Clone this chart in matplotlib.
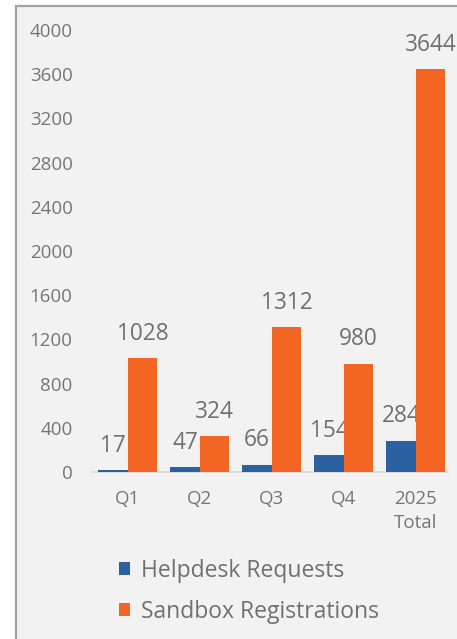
import numpy as np
import matplotlib.pyplot as plt
from matplotlib.patches import Rectangle

plt.rcParams['font.family'] = ['Open Sans', 'DejaVu Sans']

# --- dati del grafico ---
categories = ['Q1', 'Q2', 'Q3', 'Q4', '2025\nTotal']
helpdesk = [17, 47, 66, 154, 284]
sandbox = [1028, 324, 1312, 980, 3644]
series_names = ['Helpdesk Requests', 'Sandbox Registrations']

blue = '#2b61a0'
orange = '#f26522'
text_gray = '#767676'

W, H = 457, 639
fig = plt.figure(figsize=(W / 100, H / 100), dpi=100, facecolor='white')

# riquadro grigio di sfondo
fig.patches.append(Rectangle((16 / W, -0.05), 1.1, 1 - 6 / H + 0.05,
                             transform=fig.transFigure, facecolor='#f2f2f2',
                             edgecolor='#a3a3a3', linewidth=1.6, zorder=-5))

ax = fig.add_axes([92 / W, (H - 472) / H, 356 / W, 442 / H])
ax.set_facecolor('none')
ax.set_zorder(2)

x = np.arange(len(categories))
bw = 0.41
b1 = ax.bar(x - bw / 2, helpdesk, bw, color=blue, label=series_names[0], zorder=3)
b2 = ax.bar(x + bw / 2, sandbox, bw, color=orange, label=series_names[1], zorder=3)

# etichette dei valori sopra le barre (sotto le barre come livello)
for bars, vals in [(b1, helpdesk), (b2, sandbox)]:
    for rect, v in zip(bars, vals):
        ax.annotate(str(v), (rect.get_x() + rect.get_width() / 2, v),
                    xytext=(0, 17.5), textcoords='offset points',
                    ha='center', va='center', fontsize=16.3,
                    color='#707070', zorder=2)

ax.set_xlim(-0.5, 4.45)
ax.set_ylim(0, 4000)
ax.set_yticks(np.arange(0, 4001, 400))
ax.set_xticks(x)
ax.set_xticklabels(categories, linespacing=1.45)
ax.tick_params(axis='y', length=0, pad=14, labelsize=13.5, labelcolor=text_gray)
ax.tick_params(axis='x', length=0, pad=13, labelsize=13.5, labelcolor=text_gray)

for s in ['top', 'right', 'left']:
    ax.spines[s].set_visible(False)
ax.spines['bottom'].set_color('#d9d9d9')
ax.spines['bottom'].set_linewidth(1.2)

leg = fig.legend(handles=[b1, b2], loc='upper left',
                 bbox_to_anchor=(119 / W, 1 - 559 / H), frameon=False,
                 fontsize=16.5, labelcolor='#707070', handlelength=0.5,
                 handleheight=0.5, handletextpad=0.45, labelspacing=0.72,
                 borderaxespad=0, borderpad=0)
leg.set_zorder(3)

fig.savefig('out.png', dpi=100, facecolor='white')
